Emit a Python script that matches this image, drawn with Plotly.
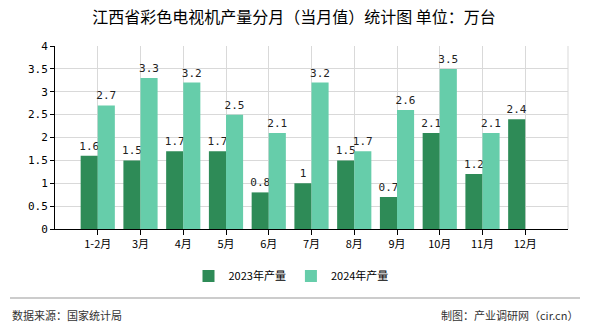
import plotly.graph_objects as go

categories = ["1-2月", "3月", "4月", "5月", "6月", "7月", "8月", "9月", "10月", "11月", "12月"]
values_2023 = [1.6, 1.5, 1.7, 1.7, 0.8, 1, 1.5, 0.7, 2.1, 1.2, 2.4]
values_2024 = [2.7, 3.3, 3.2, 2.5, 2.1, 3.2, 1.7, 2.6, 3.5, 2.1, None]
y_ticks = [0, 0.5, 1, 1.5, 2, 2.5, 3, 3.5, 4]
y_tick_labels = ["0", "0.5", "1", "1.5", "2", "2.5", "3", "3.5", "4"]

W, H = 590, 330
L, R, T, B = 55, 568, 46, 229

def px(x):
    return (x - L) / (R - L)

def py(y):
    return (B - y) / (B - T)

label_font = dict(family="DejaVu Sans Mono, monospace", size=11, color="#222222")

fig = go.Figure()
fig.add_trace(go.Bar(
    x=categories, y=values_2023, name="2023年产量",
    marker=dict(color="#2E8B57", line=dict(width=0)),
    text=[str(v) for v in values_2023], textposition="outside",
    textfont=label_font, cliponaxis=False, constraintext="none",
))
fig.add_trace(go.Bar(
    x=categories, y=values_2024, name="2024年产量",
    marker=dict(color="#66CDAA", line=dict(width=0)),
    text=["" if v is None else str(v) for v in values_2024], textposition="outside",
    textfont=label_font, cliponaxis=False, constraintext="none",
))

fig.update_layout(
    width=W, height=H,
    margin=dict(l=L, r=W - R, t=T, b=H - B),
    paper_bgcolor="white", plot_bgcolor="white",
    barmode="group", bargap=0.2, bargroupgap=0,
    font=dict(family="Noto Sans CJK SC, sans-serif", size=11, color="#000000"),
    title=dict(text="江西省彩色电视机产量分月（当月值）统计图 单位：万台",
               x=px(294), xref="paper", xanchor="center", y=1 - 17.5 / H, yanchor="middle",
               font=dict(size=16, color="#000000")),
    showlegend=True,
    legend=dict(orientation="h", x=px(291), xanchor="center", xref="paper",
                y=py(276), yanchor="middle", font=dict(size=11),
                itemwidth=30, bgcolor="rgba(0,0,0,0)"),
    xaxis=dict(
        type="category", range=[-1, 11],
        showgrid=True, gridcolor="#d9d9d9", gridwidth=1,
        showline=True, linecolor="#000000", linewidth=1,
        ticks="outside", ticklen=5, tickcolor="#000000",
        tickfont=dict(size=11, color="#000000"),
    ),
    yaxis=dict(
        range=[0, 4], tickvals=y_ticks, ticktext=y_tick_labels,
        showgrid=True, gridcolor="#d9d9d9", gridwidth=1,
        showline=True, linecolor="#000000", linewidth=1,
        ticks="outside", ticklen=4, tickcolor="#000000",
        tickfont=dict(family="DejaVu Sans Mono, monospace", size=11, color="#000000"),
        zeroline=False,
    ),
    shapes=[
        dict(type="line", xref="paper", yref="paper",
             x0=1, x1=1, y0=0, y1=1, layer="below",
             line=dict(color="#d9d9d9", width=1)),
        dict(type="line", xref="paper", yref="paper",
             x0=px(10), x1=px(580), y0=py(298), y1=py(298),
             line=dict(color="#999999", width=1)),
    ],
    annotations=[
        dict(text="数据来源：国家统计局", xref="paper", yref="paper",
             x=px(10), y=py(315), xanchor="left", yanchor="middle",
             showarrow=False, font=dict(size=11, color="#333333")),
        dict(text="制图：产业调研网（cir.cn）", xref="paper", yref="paper",
             x=px(580), y=py(315), xanchor="right", yanchor="middle",
             showarrow=False, font=dict(size=11, color="#333333")),
    ],
)

fig.write_html("out.html")
